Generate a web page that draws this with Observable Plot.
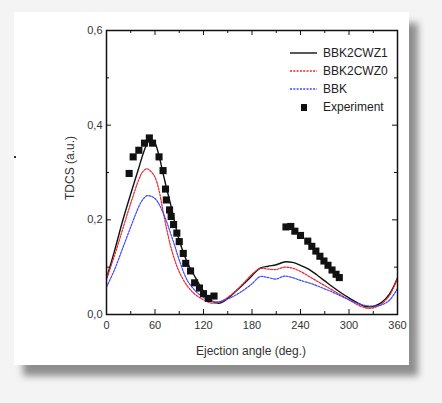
<!DOCTYPE html>
<html>
<head>
<meta charset="utf-8">
<script src="https://cdn.jsdelivr.net/npm/d3@7"></script>
<script src="https://cdn.jsdelivr.net/npm/@observablehq/plot@0.6"></script>
<style>
  html, body { margin: 0; padding: 0; }
  body { width: 442px; height: 403px; background: #f4f4f4; position: relative; overflow: hidden; font-family: "Liberation Sans", Arial, sans-serif; }
  #card { position: absolute; left: 14px; top: 12px; width: 395px; height: 353px; background: #fff; box-shadow: 9px 11px 7px rgba(0,0,0,0.42); }
  #chart { position: absolute; left: 0; top: 0; }
  .title { position: absolute; color: #333; font-size: 12px; white-space: nowrap; }
  #legend { position: absolute; left: 290px; top: 44px; font-size: 12px; color: #222; }
  #legend .row { height: 18px; display: flex; align-items: center; }
  #legend .row svg { margin-right: 5px; }
  #dot { position: absolute; left: 14px; top: 156px; width: 2px; height: 2px; background: #333; }
</style>
</head>
<body>
<div id="card"></div>
<div id="dot"></div>
<div id="chart"></div>
<div class="title" style="left:251px; top:344px; transform:translateX(-50%);">Ejection angle (deg.)</div>
<div class="title" style="left:70px; top:168px; transform:translate(-50%,-50%) rotate(-90deg);">TDCS (a.u.)</div>
<div id="legend"></div>
<script>
// Angles (deg.)
const angles = [0,10,20,30,40,45,50,55,60,65,70,75,80,85,90,100,110,120,130,140,150,160,170,180,190,200,210,220,230,240,250,260,270,280,290,300,310,320,330,340,350,360];
// Theory curves
const bbk2cwz1 = [0.076,0.135,0.198,0.255,0.31,0.338,0.36,0.37,0.362,0.335,0.298,0.262,0.228,0.19,0.157,0.11,0.078,0.049,0.029,0.024,0.034,0.049,0.065,0.082,0.098,0.102,0.105,0.111,0.110,0.104,0.096,0.084,0.071,0.058,0.046,0.035,0.025,0.017,0.017,0.025,0.043,0.077];
const bbk2cwz0 = [0.075,0.125,0.18,0.235,0.285,0.302,0.308,0.302,0.29,0.262,0.218,0.176,0.14,0.112,0.09,0.06,0.042,0.031,0.024,0.027,0.036,0.05,0.067,0.085,0.097,0.096,0.095,0.1,0.098,0.091,0.081,0.071,0.061,0.051,0.041,0.031,0.021,0.014,0.014,0.022,0.04,0.077];
const bbk = [0.058,0.095,0.14,0.185,0.228,0.243,0.251,0.25,0.245,0.233,0.215,0.193,0.168,0.142,0.115,0.072,0.05,0.036,0.028,0.027,0.033,0.041,0.052,0.065,0.08,0.078,0.075,0.081,0.078,0.072,0.067,0.061,0.054,0.047,0.039,0.031,0.024,0.019,0.018,0.02,0.03,0.055];
// Experiment
const expAngle = [28,33,40,47,53,57,65,70,73,74,78,80,83,87,90,95,98,104,109,115,120,126,133,222,228,233,240,249,254,259,264,269,274,279,284,288];
const expValue = [0.298,0.333,0.347,0.362,0.373,0.362,0.333,0.304,0.265,0.242,0.221,0.207,0.190,0.172,0.154,0.129,0.108,0.092,0.067,0.056,0.044,0.034,0.039,0.185,0.186,0.176,0.167,0.155,0.144,0.134,0.123,0.113,0.104,0.094,0.085,0.078];
// Ticks
const xMajor = [0,60,120,180,240,300,360];
const xMinor = [30,90,150,210,270,330];
const yMajor = [0,0.2,0.4,0.6];
const yMinor = [0.1,0.3,0.5];
const seriesNames = ["BBK2CWZ1","BBK2CWZ0","BBK","Experiment"];
const seriesColors = ["#111111","#e8262b","#3c46ff","#111111"];
const seriesDash = [null,"2,1.3","2,1.3",null];

const W = 442, H = 403, mL = 106, mR = 45, mT = 30, mB = 89;
const innerW = W - mL - mR, innerH = H - mT - mB;
const majorLen = 5, minorLen = 3;

const curves = [bbk2cwz1, bbk2cwz0, bbk];
const lineData = curves.map((vals) => angles.map((a, i) => ({a, v: vals[i]})));
const expData = expAngle.map((a, i) => ({a, v: expValue[i]}));
const fmt = d => d3.format(".1f")(d).replace(".", ",");

const tickStyle = {stroke: "#111", strokeWidth: 1};
const plot = Plot.plot({
  width: W, height: H,
  marginLeft: mL, marginRight: mR, marginTop: mT, marginBottom: mB,
  style: {background: "transparent", fontFamily: "Liberation Sans, Arial, sans-serif", fontSize: "11px", color: "#333"},
  x: {domain: [0, 360]},
  y: {domain: [0, 0.6]},
  marks: [
    Plot.axisX({ticks: xMajor, tickSize: 0, tickPadding: 7, label: null, fill: "#333"}),
    Plot.axisY({ticks: yMajor, tickSize: 0, tickPadding: 4, label: null, tickFormat: fmt, fill: "#333"}),
    // inward ticks on all four sides
    Plot.tickX(xMajor, {x: d => d, insetTop: innerH - majorLen, ...tickStyle}),
    Plot.tickX(xMinor, {x: d => d, insetTop: innerH - minorLen, ...tickStyle}),
    Plot.tickX(xMajor, {x: d => d, insetBottom: innerH - majorLen, ...tickStyle}),
    Plot.tickX(xMinor, {x: d => d, insetBottom: innerH - minorLen, ...tickStyle}),
    Plot.tickY(yMajor, {y: d => d, insetRight: innerW - majorLen, ...tickStyle}),
    Plot.tickY(yMinor, {y: d => d, insetRight: innerW - minorLen, ...tickStyle}),
    Plot.tickY(yMajor, {y: d => d, insetLeft: innerW - majorLen, ...tickStyle}),
    Plot.tickY(yMinor, {y: d => d, insetLeft: innerW - minorLen, ...tickStyle}),
    ...lineData.map((d, k) => Plot.line(d, {x: "a", y: "v", curve: "catmull-rom", stroke: seriesColors[k], strokeWidth: k === 0 ? 1.4 : 1.2, strokeDasharray: seriesDash[k]})),
    Plot.dot(expData, {x: "a", y: "v", symbol: "square", r: 4, fill: seriesColors[3], stroke: null}),
    Plot.frame({stroke: "#111", strokeWidth: 1.5})
  ]
});
document.getElementById("chart").appendChild(plot);

// legend
const legend = document.getElementById("legend");
seriesNames.forEach((name, k) => {
  const row = document.createElement("div");
  row.className = "row";
  let sym;
  if (k < 3) {
    sym = `<svg width="28" height="10"><line x1="0" y1="5" x2="27" y2="5" stroke="${seriesColors[k]}" stroke-width="1.4" ${seriesDash[k] ? `stroke-dasharray="${seriesDash[k]}"` : ""}/></svg>`;
  } else {
    sym = `<svg width="28" height="10"><rect x="11" y="2" width="6" height="7" fill="${seriesColors[k]}"/></svg>`;
  }
  row.innerHTML = sym + `<span>${name}</span>`;
  legend.appendChild(row);
});
</script>
</body>
</html>
